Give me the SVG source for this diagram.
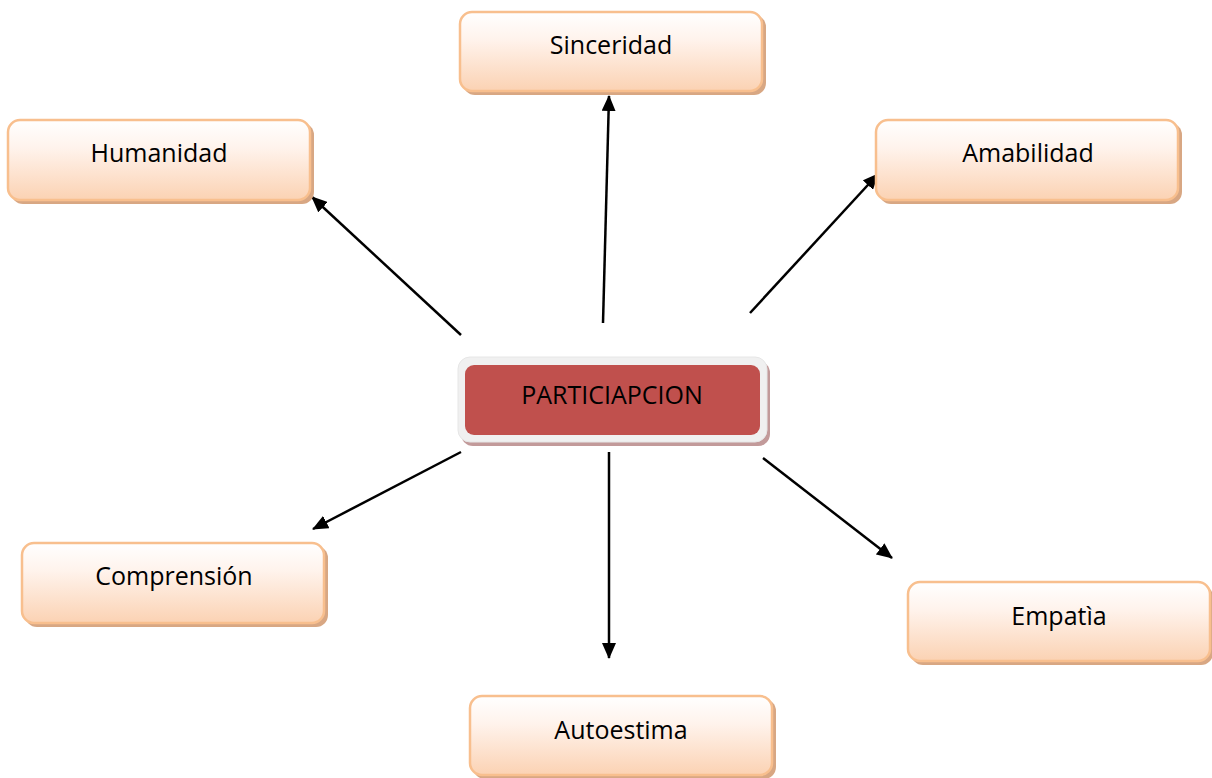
<svg xmlns="http://www.w3.org/2000/svg" width="1212" height="778" viewBox="0 0 1212 778">
<defs>
<linearGradient id="peach" x1="0" y1="0" x2="0" y2="1">
<stop offset="0" stop-color="#ffffff"/>
<stop offset="0.35" stop-color="#fff3ec"/>
<stop offset="1" stop-color="#fbd2b3"/>
</linearGradient>
<marker id="arrow" viewBox="0 0 16 14" refX="15" refY="7" markerWidth="16" markerHeight="14" markerUnits="userSpaceOnUse" orient="auto">
<path d="M0,0 L16,7 L0,14 z" fill="#000"/>
</marker>
</defs>
<style>
.shadow{fill:#d8a783;}
.box{fill:url(#peach);stroke:#f8bf8e;stroke-width:2.5;}
.lbl{font-family:"Open Sans","Liberation Sans",sans-serif;font-size:25px;fill:#000;text-anchor:middle;}
.conn{stroke:#000;stroke-width:2.5;fill:none;marker-end:url(#arrow);}
</style>
<rect width="1212" height="778" fill="#fff"/>
<g id="connectors">
<line class="conn" x1="461" y1="335" x2="312" y2="197"/>
<line class="conn" x1="603" y1="323" x2="609" y2="96"/>
<line class="conn" x1="750" y1="313" x2="878" y2="174"/>
<line class="conn" x1="461" y1="452" x2="313" y2="529"/>
<line class="conn" x1="609" y1="452" x2="609" y2="658"/>
<line class="conn" x1="763" y1="458" x2="892" y2="558"/>
</g>
<g id="sinceridad">
<rect class="shadow" x="463" y="15" width="303" height="80" rx="12"/>
<rect class="box" x="460" y="12" width="302" height="79" rx="12"/>
<text class="lbl" x="611" y="54">Sinceridad</text>
</g>
<g id="humanidad">
<rect class="shadow" x="11" y="123" width="303" height="81" rx="12"/>
<rect class="box" x="8" y="120" width="302" height="80" rx="12"/>
<text class="lbl" x="159" y="162">Humanidad</text>
</g>
<g id="amabilidad">
<rect class="shadow" x="879" y="123" width="303" height="81" rx="12"/>
<rect class="box" x="876" y="120" width="302" height="80" rx="12"/>
<text class="lbl" x="1028" y="162">Amabilidad</text>
</g>
<g id="comprension">
<rect class="shadow" x="25" y="546" width="303" height="81" rx="12"/>
<rect class="box" x="22" y="543" width="302" height="80" rx="12"/>
<text class="lbl" x="174" y="585">Comprensión</text>
</g>
<g id="empatia">
<rect class="shadow" x="911" y="585" width="302" height="80" rx="12"/>
<rect class="box" x="908" y="582" width="302" height="79" rx="12"/>
<text class="lbl" x="1059" y="625">Empatìa</text>
</g>
<g id="autoestima">
<rect class="shadow" x="473" y="699" width="303" height="80" rx="12"/>
<rect class="box" x="470" y="696" width="302" height="79" rx="12"/>
<text class="lbl" x="621" y="739">Autoestima</text>
</g>
<g id="participacion">
<rect x="461" y="361" width="309" height="85" rx="12" fill="#c29a9a"/>
<rect x="458" y="357" width="309" height="85" rx="12" fill="#f0f0f0" stroke="#e6e6e6" stroke-width="1"/>
<rect x="465" y="365" width="295" height="70" rx="9" fill="#c0504d"/>
<text class="lbl" x="612" y="404">PARTICIAPCION</text>
</g>
</svg>
